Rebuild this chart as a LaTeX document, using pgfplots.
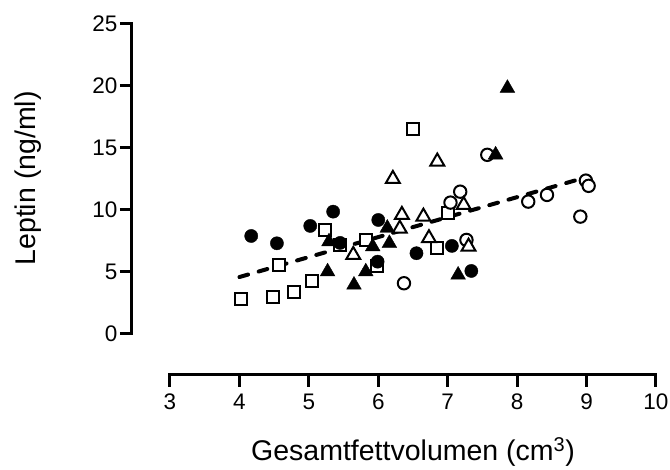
\documentclass[border=0pt]{standalone}
\usepackage{pgfplots}
\pgfplotsset{compat=1.18}
\usepackage{fontspec}
\setmainfont{Liberation Sans}
\begin{document}
\begin{tikzpicture}[x=1pt,y=1pt]
\useasboundingbox (-170,-136.5) rectangle (500,333.5);
\begin{axis}[
  at={(0,0)}, anchor=south west,
  scale only axis, width=486pt, height=310.2pt,
  xmin=3, xmax=10, ymin=0, ymax=25,
  axis lines=left,
  axis line style={-, line width=3pt, line cap=rect},
  axis x line shift=41.5pt,
  axis y line shift=38pt,
  xtick={3,4,...,10}, ytick={0,5,...,25},
  tick align=outside,
  major tick length=12pt,
  every tick/.style={line width=3pt, black},
  /pgf/number format/assume math mode=true,
  xticklabel style={font=\fontsize{22.5}{22.5}\selectfont, inner sep=7pt},
  yticklabel style={font=\fontsize{22.5}{22.5}\selectfont, inner sep=2.5pt},
  xlabel={Gesamtfettvolumen (cm\textsuperscript{3})},
  ylabel={Leptin (ng/ml)},
  every axis x label/.style={at={(rel axis cs:0.5,0)}, yshift=-127pt, anchor=base, font=\fontsize{28.5}{28.5}\selectfont},
  every axis y label/.style={at={(rel axis cs:0,0.5)}, xshift=-134pt, rotate=90, anchor=base, font=\fontsize{28.5}{28.5}\selectfont},
  clip=false,
]
% open squares
\addplot[only marks, mark=square*, mark size=6pt, mark options={fill=white, draw=black, line width=2pt}] coordinates {
(4.02,2.81) (4.48,2.97) (4.79,3.35) (5.05,4.26) (4.57,5.55) (5.23,8.35) (5.45,7.1) (5.83,7.54) (5.98,5.4) (6.5,16.49) (6.84,6.92) (7.0,9.74)};
% open circles
\addplot[only marks, mark=*, mark size=6.2pt, mark options={fill=white, draw=black, line width=2pt}] coordinates {
(6.37,4.05) (7.04,10.55) (7.18,11.43) (7.27,7.54) (7.57,14.4) (8.16,10.63) (8.43,11.17) (8.91,9.42) (8.99,12.32) (9.03,11.9)};
% open triangles
\addplot[only marks, mark=triangle*, mark size=8pt, mark options={fill=white, draw=black, line width=2pt}] coordinates {
(5.64,6.33) (6.21,12.46) (6.31,8.45) (6.34,9.56) (6.65,9.42) (6.73,7.68) (6.85,13.86) (7.23,10.36) (7.3,7.0)};
% filled circles
\addplot[only marks, mark=*, mark size=6.6pt, mark options={fill=black, draw=black}] coordinates {
(4.17,7.86) (4.54,7.27) (5.02,8.67) (5.35,9.82) (5.45,7.3) (6.0,9.15) (5.99,5.79) (6.55,6.47) (7.06,7.06) (7.34,5.04)};
% filled triangles
\addplot[only marks, mark=triangle*, mark size=8.5pt, mark options={fill=black, draw=black}] coordinates {
(5.27,4.98) (5.29,7.4) (5.65,3.91) (5.82,4.98) (5.92,7.0) (6.13,8.5) (6.16,7.27) (7.15,4.72) (7.69,14.4) (7.86,19.77)};
% regression line
\addplot[black, line width=4pt, line cap=round, dash pattern=on 9pt off 11pt] coordinates {(4.0,4.55) (9.0,12.6)};
\end{axis}
\end{tikzpicture}
\end{document}
